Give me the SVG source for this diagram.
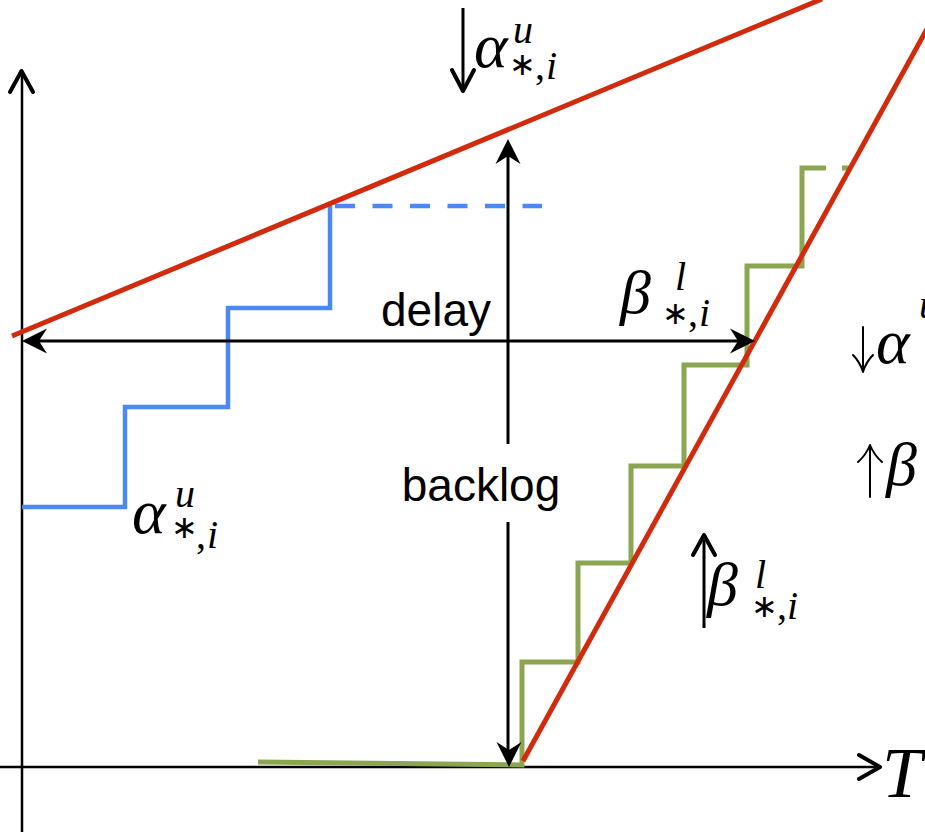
<svg xmlns="http://www.w3.org/2000/svg" xmlns:xlink="http://www.w3.org/1999/xlink" width="925" height="832" viewBox="0 0 925 832">
<style>
.ax{stroke:#000;stroke-width:2.5;fill:none}
.ch{stroke:#000;stroke-width:4;fill:none;stroke-linecap:round;stroke-linejoin:round}
.thin{stroke:#000;stroke-width:2;fill:none;stroke-linecap:round;stroke-linejoin:round}
.red{stroke:#d12a0c;stroke-width:5;fill:none}
.blue{stroke:#4a89f3;stroke-width:4.5;fill:none}
.green{stroke:#8ca550;stroke-width:5;fill:none}
.arr{stroke:#000;stroke-width:3;fill:none}
.hd{fill:#000}
.lbl{font-family:"Liberation Sans",Arial,sans-serif;font-size:46px;fill:#000}
.m{font-family:"Liberation Serif","DejaVu Serif",serif;font-style:italic;fill:#000}
.up{font-style:normal}
.ast{font-family:"DejaVu Sans",sans-serif;font-style:normal;font-size:32px}
.big{font-size:64px}
.bb{font-size:62px}
.sm{font-size:40px}
</style>
<defs>
<path id="head" d="M0,0 L-25,-12.5 L-17,0 L-25,12.5 Z"/>
</defs>
<g id="axes">
<line class="ax" x1="22" y1="832" x2="22" y2="74"/>
<path class="ch" d="M10,92 L21.5,71 L33,92"/>
<line class="ax" x1="0" y1="767" x2="878" y2="767"/>
<path class="ch" d="M859,755 L880,767 L859,779"/>
<text class="m" x="882" y="797" font-size="72">T</text>
</g>
<g id="blue-curve">
<path class="blue" d="M22,507 H125 V407 H228 V308 H330 V206"/>
<line class="blue" x1="335" y1="206" x2="542" y2="206" stroke-dasharray="20 17.5"/>
</g>
<g id="green-curve">
<path class="green" d="M258,762 L522,765 V662 H578 V563 H631 V466 H684 V365 H747 V266 H802 V168 H826"/>
<line class="green" x1="842" y1="168" x2="852" y2="168"/>
</g>
<g id="red-lines">
<line class="red" x1="12" y1="336" x2="822" y2="-1"/>
<line class="red" x1="523" y1="761" x2="927" y2="29"/>
</g>
<g id="connectors">
<g id="delay-arrow">
<line class="arr" x1="36" y1="341" x2="742" y2="341"/>
<use href="#head" xlink:href="#head" class="hd" transform="translate(22,341) rotate(180)"/>
<use href="#head" xlink:href="#head" class="hd" transform="translate(755,341)"/>
</g>
<g id="backlog-arrow">
<line class="arr" x1="508" y1="152" x2="508" y2="444"/>
<line class="arr" x1="508" y1="522" x2="508" y2="754"/>
<use href="#head" xlink:href="#head" class="hd" transform="translate(508,139) rotate(-90)"/>
<use href="#head" xlink:href="#head" class="hd" transform="translate(509,767) rotate(90)"/>
</g>
</g>
<g id="text-labels">
<text class="lbl" x="436" y="326" text-anchor="middle">delay</text>
<text class="lbl" x="481" y="501" text-anchor="middle">backlog</text>
</g>
<g id="label-alpha-top">
<line class="arr" x1="463" y1="8" x2="463" y2="88"/>
<path class="ch" d="M452,70 L463,91 L474,70"/>
<text class="m big" x="474" y="67">α<tspan class="sm" x="513" y="43">u</tspan><tspan class="ast" x="509" y="75">∗</tspan><tspan class="sm up" x="535" y="79">,</tspan><tspan class="sm" x="546" y="79">i</tspan></text>
</g>
<g id="label-alpha-left">
<text class="m big" x="132" y="533">α<tspan class="sm" x="175" y="507">u</tspan><tspan class="ast" x="171" y="538">∗</tspan><tspan class="sm up" x="196" y="548">,</tspan><tspan class="sm" x="207" y="548">i</tspan></text>
</g>
<g id="label-beta-top">
<text class="m bb" x="620" y="313">β<tspan class="sm" x="675" y="290">l</tspan><tspan class="ast" x="662" y="324">∗</tspan><tspan class="sm up" x="688" y="326">,</tspan><tspan class="sm" x="699" y="326">i</tspan></text>
</g>
<g id="label-beta-bottom">
<line class="arr" x1="704" y1="628" x2="704" y2="540"/>
<path class="ch" d="M693,555 L704,535 L715,555"/>
<text class="m bb" x="707" y="605">β<tspan class="sm" x="755" y="588">l</tspan><tspan class="ast" x="751" y="617">∗</tspan><tspan class="sm up" x="777" y="619">,</tspan><tspan class="sm" x="787" y="619">i</tspan></text>
</g>
<g id="label-right">
<line class="thin" x1="863" y1="327" x2="863" y2="371"/>
<path class="thin" d="M853,355 Q860,362 863,372 Q866,362 873,355"/>
<text class="m big" x="876" y="363">α<tspan class="sm" x="919" y="318">u</tspan></text>
<line class="thin" x1="870" y1="497" x2="870" y2="446"/>
<path class="thin" d="M858,462 Q866,455 870,445 Q874,455 882,462"/>
<text class="m bb" x="886" y="485">β</text>
</g>
</svg>
